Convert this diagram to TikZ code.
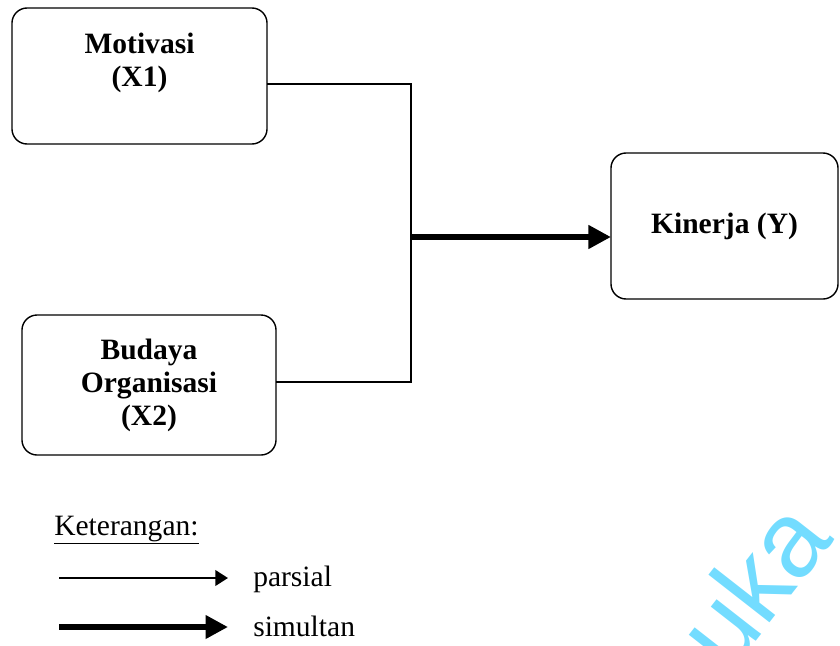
\documentclass[tikz,border=0pt]{standalone}
\usepackage{fontspec}
\setmainfont{Liberation Serif}
\newfontfamily\wmfont{Liberation Sans}
\usepackage{tikz}
\usetikzlibrary{positioning,arrows.meta}

\begin{document}
\begin{tikzpicture}[x=0.025cm,y=-0.025cm,
    box/.style={rectangle,draw,rounded corners=0.38cm,line width=1pt,outer sep=0pt,align=center,
        font=\fontsize{21}{23.5}\selectfont\bfseries},
    conn/.style={line width=1.7pt},
    thin/.style={line width=1.7pt,-{Triangle[length=9pt,width=11pt]}},
    thick/.style={line width=4.5pt,-{Triangle[length=16pt,width=16pt]}},
    legend/.style={font=\fontsize{21}{23.5}\selectfont}]
    \useasboundingbox (0,0) rectangle (840,645);

    % Variables
    \node[box,minimum width=6.375cm,minimum height=3.4cm] (mot) at (139.5,76) {Motivasi\\(X1)\\~};
    \node[box,minimum width=6.35cm,minimum height=3.5cm] (bud) at (149,385) {Budaya\\Organisasi\\(X2)};
    \node[box,minimum width=5.675cm,minimum height=3.65cm] (kin) at (724.5,226) {Kinerja (Y)};

    % Junction
    \coordinate (t1) at (411,84);
    \coordinate (t2) at (411,382);
    \coordinate (j) at (411,237);

    % Connections
    \draw[conn] (t1 -| mot.east) -- (t1) -- (t2) -- (t2 -| bud.east);
    \draw[thick] (j) -- (j -| kin.west);

    % Legend
    \node[legend,anchor=base west,inner sep=0pt] (ket) at (54,535) {\underline{Keterangan:}};
    \coordinate (p1) at (59,578);
    \coordinate (p2) at (228,578);
    \coordinate (s1) at (59,627);
    \coordinate (s2) at (228,627);
    \node[legend,anchor=base west,inner sep=0pt] (par) at (253,586) {parsial};
    \node[legend,anchor=base west,inner sep=0pt] (sim) at (253,636) {simultan};
    \draw[thin] (p1) -- (p2);
    \draw[thick] (s1) -- (s2);

    % Watermark
    \node[text={rgb,255:red,115;green,220;blue,255},rotate=52,inner sep=0pt,
        font=\fontsize{76}{76}\wmfont] (wm) at (752,584) {uka};
\end{tikzpicture}
\end{document}
